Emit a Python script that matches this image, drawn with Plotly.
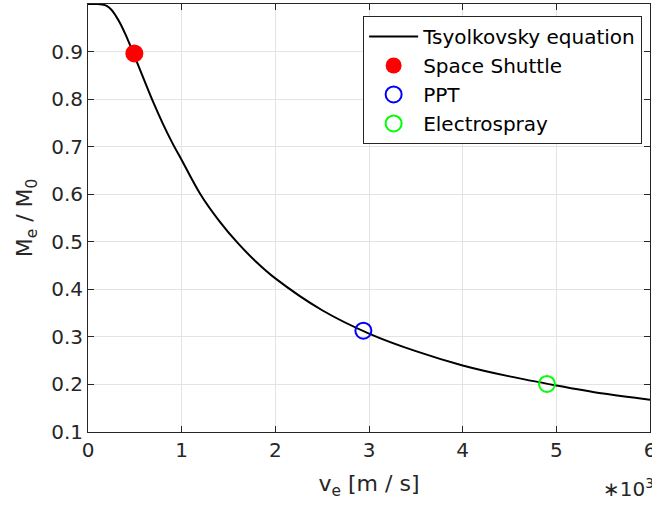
import plotly.graph_objects as go

# Curve values (ve in m/s, Me/M0)
ve_curve = [0, 100, 150, 200, 250, 300, 350, 400, 450, 500, 600, 700, 800, 900,
            1000, 1200, 1400, 1600, 1800, 2000, 2500, 3000, 3500, 4000, 4500,
            5000, 5500, 6000]
ratio_curve = [1.000, 1.000, 0.999, 0.996, 0.988, 0.974, 0.957, 0.936, 0.913,
               0.889, 0.840, 0.792, 0.748, 0.708, 0.672, 0.600, 0.544, 0.497,
               0.457, 0.423, 0.356, 0.307, 0.270, 0.240, 0.217, 0.198, 0.181,
               0.168]

# Points
shuttle_ve = [495]
shuttle_ratio = [0.896]
ppt_ve = [2940]
ppt_ratio = [0.313]
espray_ve = [4900]
espray_ratio = [0.201]

x_ticks = [0, 1000, 2000, 3000, 4000, 5000, 6000]
x_ticklabels = ["0", "1", "2", "3", "4", "5", "6"]
y_ticks = [0.1, 0.2, 0.3, 0.4, 0.5, 0.6, 0.7, 0.8, 0.9]
y_ticklabels = ["0.1", "0.2", "0.3", "0.4", "0.5", "0.6", "0.7", "0.8", "0.9"]

FONT = "DejaVu Sans"
AX = "#262626"
GRID = "#e3e3e3"
FS = 20
FT = 22

fig = go.Figure()
fig.add_trace(go.Scatter(x=ve_curve, y=ratio_curve, mode="lines",
                         line=dict(color="black", width=2, shape="spline", smoothing=1.0),
                         name="Tsyolkovsky equation"))
fig.add_trace(go.Scatter(x=shuttle_ve, y=shuttle_ratio, mode="markers",
                         marker=dict(symbol="circle", size=18, color="#ff0000",
                                     line=dict(width=0)),
                         name="Space Shuttle"))
fig.add_trace(go.Scatter(x=ppt_ve, y=ppt_ratio, mode="markers",
                         marker=dict(symbol="circle-open", size=16, color="#0000ff",
                                     line=dict(width=2, color="#0000ff")),
                         name="PPT"))
fig.add_trace(go.Scatter(x=espray_ve, y=espray_ratio, mode="markers",
                         marker=dict(symbol="circle-open", size=16, color="#00ff00",
                                     line=dict(width=2, color="#00ff00")),
                         name="Electrospray"))

fig.update_layout(
    width=652, height=507,
    margin=dict(l=88, r=2, t=4, b=75, autoexpand=False),
    paper_bgcolor="white", plot_bgcolor="white",
    font=dict(family=FONT, size=FS, color=AX),
    showlegend=True,
    legend=dict(x=0.986, y=0.972, xanchor="right", yanchor="top",
                bgcolor="white", bordercolor=AX, borderwidth=1,
                font=dict(family=FONT, size=FS, color="black"),
                itemwidth=49, tracegroupgap=0),
    xaxis=dict(range=[0, 6000], tickvals=x_ticks, ticktext=x_ticklabels,
               showgrid=True, gridcolor=GRID, gridwidth=1,
               showline=True, linecolor=AX, linewidth=1, mirror="ticks",
               ticks="inside", ticklen=6, tickcolor=AX, zeroline=False,
               ticklabeloverflow="allow", automargin=False,
               title=dict(text="v<sub>e</sub> [m / s]", font=dict(size=FT), standoff=14)),
    yaxis=dict(range=[0.1, 1.0], tickvals=y_ticks, ticktext=y_ticklabels,
               showgrid=True, gridcolor=GRID, gridwidth=1,
               showline=True, linecolor=AX, linewidth=1, mirror="ticks",
               ticks="inside", ticklen=6, tickcolor=AX, zeroline=False,
               automargin=False,
               title=dict(text="M<sub>e</sub> / M<sub>0</sub>", font=dict(size=FT), standoff=12)),
)

fig.add_annotation(text="\u221710<sup>3</sup>", xref="paper", yref="paper",
                   x=1.01, y=-0.13, xanchor="right", yanchor="middle",
                   showarrow=False, font=dict(family=FONT, size=FS, color=AX))

fig.write_html("out.html")
